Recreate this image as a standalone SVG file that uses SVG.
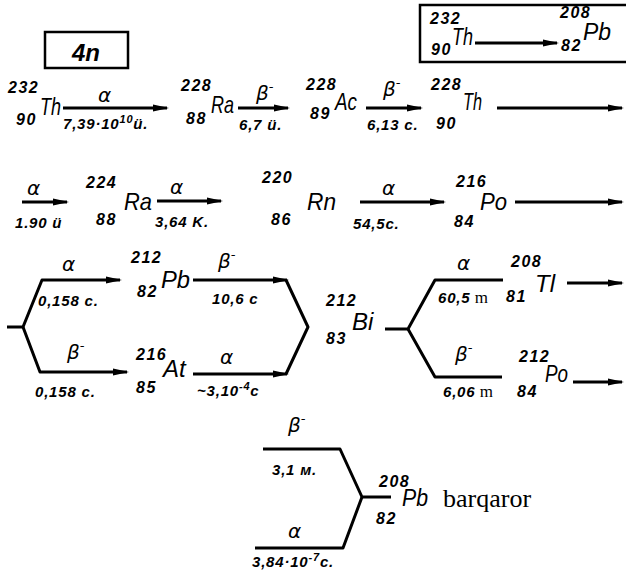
<svg xmlns="http://www.w3.org/2000/svg" width="626" height="576" viewBox="0 0 626 576">
<defs>
<style>
.sym{font-family:"Liberation Sans",Arial,sans-serif;font-style:italic;font-size:24px;fill:#000}
.n{font-family:"Liberation Sans",Arial,sans-serif;font-style:italic;font-weight:bold;font-size:16px;letter-spacing:1.5px;fill:#000}
.t{font-family:"Liberation Sans",Arial,sans-serif;font-style:italic;font-weight:bold;font-size:15px;letter-spacing:0.8px;fill:#000}
.g{font-family:"DejaVu Sans",sans-serif;font-style:italic;font-size:20px;fill:#000}
.s{font-family:"Liberation Serif","Times New Roman",serif;font-size:26px;fill:#000}
.sm{font-family:"Liberation Serif","Times New Roman",serif;font-size:17px;font-style:normal;font-weight:normal;letter-spacing:0}
.ln{stroke:#000;stroke-width:3;fill:none;stroke-linejoin:round}
.ar{marker-end:url(#ah)}
.box{stroke:#000;stroke-width:2.5;fill:none}
</style>
<marker id="ah" markerUnits="userSpaceOnUse" markerWidth="16" markerHeight="8" refX="14" refY="4" orient="auto">
<path d="M0,0.6 L16,4 L0,7.4 z" fill="#000"/>
</marker>
</defs>
<rect width="626" height="576" fill="#fff"/>

<g id="series-box">
<rect class="box" x="45" y="32" width="83" height="36"/>
<text class="sym" x="72" y="61" font-weight="bold" font-size="20">4n</text>
</g>

<g id="summary-box">
<rect class="box" x="420" y="5" width="215" height="57"/>
<text class="n" x="430" y="24">232</text>
<text class="n" x="431" y="55">90</text>
<text class="sym" x="452" y="45" textLength="21" lengthAdjust="spacingAndGlyphs">Th</text>
<line class="ln ar" x1="475" y1="43" x2="557" y2="43"/>
<text class="n" x="560" y="18">208</text>
<text class="n" x="561" y="51">82</text>
<text class="sym" x="583" y="40" textLength="28" lengthAdjust="spacingAndGlyphs">Pb</text>
</g>

<g id="connectors">
<line class="ln ar" x1="63" y1="108" x2="167" y2="108"/>
<line class="ln ar" x1="238" y1="108" x2="288" y2="108"/>
<line class="ln ar" x1="366" y1="108" x2="421" y2="108"/>
<line class="ln ar" x1="497" y1="108" x2="622" y2="108"/>
<line class="ln ar" x1="22" y1="202" x2="67" y2="202"/>
<line class="ln ar" x1="157" y1="201" x2="221" y2="201"/>
<line class="ln ar" x1="360" y1="202" x2="444" y2="202"/>
<line class="ln ar" x1="515" y1="202" x2="622" y2="202"/>
<path class="ln ar" d="M7,327 H23 L42,280 H120"/>
<path class="ln ar" d="M23,327 L40,372 H127"/>
<line class="ln ar" x1="193" y1="280" x2="287" y2="280"/>
<line class="ln ar" x1="193" y1="374" x2="287" y2="374"/>
<path class="ln" d="M286,280 L308,327 L286,374"/>
<path class="ln" d="M385,329 H408 L435,280 H503"/>
<path class="ln" d="M408,329 L435,377 H502"/>
<line class="ln ar" x1="567" y1="283" x2="622" y2="283"/>
<line class="ln ar" x1="573" y1="382" x2="622" y2="382"/>
<path class="ln" d="M263,449 H340 L362,497 H391"/>
<path class="ln" d="M255,548 H343 L362,497"/>
</g>

<g id="labels">
<text class="g" x="98" y="102">α</text>
<text class="t" x="63" y="129">7,39·10<tspan dy="-6" font-size="11">10</tspan><tspan dy="6">ü.</tspan></text>
<text class="g" x="256" y="100">β<tspan dy="-9" font-size="13">-</tspan></text>
<text class="t" x="239" y="130">6,7 ü.</text>
<text class="g" x="383" y="96">β<tspan dy="-9" font-size="13">-</tspan></text>
<text class="t" x="367" y="130">6,13 c.</text>
<text class="g" x="27" y="195">α</text>
<text class="t" x="15" y="228">1.90 ü</text>
<text class="g" x="170" y="194">α</text>
<text class="t" x="155" y="227">3,64 K.</text>
<text class="g" x="382" y="195">α</text>
<text class="t" x="353" y="229">54,5c.</text>
<text class="g" x="62" y="271">α</text>
<text class="t" x="38" y="306">0,158 c.</text>
<text class="g" x="67" y="359">β<tspan dy="-9" font-size="13">-</tspan></text>
<text class="t" x="35" y="397">0,158 c.</text>
<text class="g" x="218" y="268">β<tspan dy="-9" font-size="13">-</tspan></text>
<text class="t" x="212" y="304">10,6 c</text>
<text class="g" x="220" y="364">α</text>
<text class="t" x="197" y="396">~3,10<tspan dy="-6" font-size="11">-4</tspan><tspan dy="6">c</tspan></text>
<text class="g" x="457" y="270">α</text>
<text class="t" x="438" y="303">60,5<tspan class="sm"> m</tspan></text>
<text class="g" x="455" y="361">β<tspan dy="-9" font-size="13">-</tspan></text>
<text class="t" x="443" y="397">6,06<tspan class="sm"> m</tspan></text>
<text class="g" x="288" y="432">β<tspan dy="-9" font-size="13">-</tspan></text>
<text class="t" x="272" y="475">3,1 м.</text>
<text class="g" x="288" y="538">α</text>
<text class="t" x="252" y="567">3,84·10<tspan dy="-6" font-size="11">-7</tspan><tspan dy="6">c.</tspan></text>
</g>

<g id="Th232"><text class="n" x="8" y="93">232</text><text class="n" x="16" y="125">90</text><text class="sym" x="40" y="115" font-size="23" textLength="21" lengthAdjust="spacingAndGlyphs">Th</text></g>
<g id="Ra228"><text class="n" x="181" y="91">228</text><text class="n" x="186" y="124">88</text><text class="sym" x="211" y="113" font-size="21" textLength="23" lengthAdjust="spacingAndGlyphs">Ra</text></g>
<g id="Ac228"><text class="n" x="306" y="90" letter-spacing="0.5">228</text><text class="n" x="310" y="119">89</text><text class="sym" x="335" y="110" font-size="20" textLength="22" lengthAdjust="spacingAndGlyphs">Ac</text></g>
<g id="Th228"><text class="n" x="431" y="90" letter-spacing="0.5">228</text><text class="n" x="436" y="129">90</text><text class="sym" x="463" y="110" font-size="20" textLength="19" lengthAdjust="spacingAndGlyphs">Th</text></g>
<g id="Ra224"><text class="n" x="86" y="188">224</text><text class="n" x="96" y="225">88</text><text class="sym" x="124" y="210" textLength="28" lengthAdjust="spacingAndGlyphs">Ra</text></g>
<g id="Rn220"><text class="n" x="262" y="183">220</text><text class="n" x="271" y="225">86</text><text class="sym" x="307" y="210" textLength="29" lengthAdjust="spacingAndGlyphs">Rn</text></g>
<g id="Po216"><text class="n" x="456" y="187">216</text><text class="n" x="454" y="227">84</text><text class="sym" x="480" y="210" textLength="27" lengthAdjust="spacingAndGlyphs">Po</text></g>
<g id="Pb212"><text class="n" x="131" y="263">212</text><text class="n" x="137" y="297">82</text><text class="sym" x="161" y="288" textLength="29" lengthAdjust="spacingAndGlyphs">Pb</text></g>
<g id="At216"><text class="n" x="136" y="360">216</text><text class="n" x="136" y="393">85</text><text class="sym" x="163" y="377">At</text></g>
<g id="Bi212"><text class="n" x="326" y="306">212</text><text class="n" x="326" y="344">83</text><text class="sym" x="352" y="330">Bi</text></g>
<g id="Tl208"><text class="n" x="511" y="267">208</text><text class="n" x="506" y="302">81</text><text class="sym" x="535" y="292">Tl</text></g>
<g id="Po212"><text class="n" x="519" y="362">212</text><text class="n" x="517" y="397">84</text><text class="sym" x="545" y="382" textLength="23" lengthAdjust="spacingAndGlyphs">Po</text></g>
<g id="Pb208"><text class="n" x="379" y="487">208</text><text class="n" x="376" y="524">82</text><text class="sym" x="402" y="506" textLength="26" lengthAdjust="spacingAndGlyphs">Pb</text><text class="s" x="443" y="507">barqaror</text></g>
</svg>
